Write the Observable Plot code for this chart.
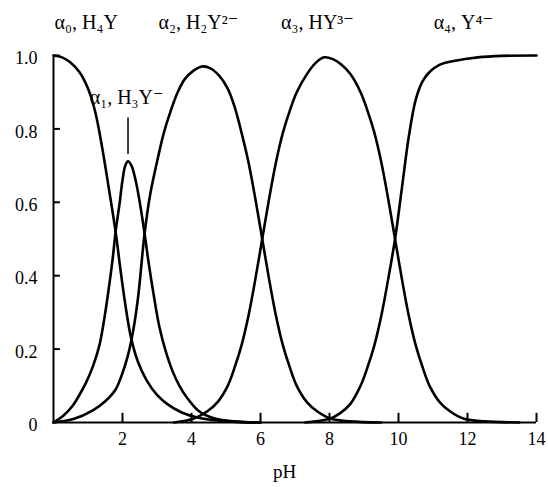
<!DOCTYPE html>
<html>
<head>
<meta charset="utf-8">
<script src="https://cdn.jsdelivr.net/npm/d3@7"></script>
<script src="https://cdn.jsdelivr.net/npm/@observablehq/plot@0.6"></script>
<style>
  html, body { margin: 0; padding: 0; background: #fff; }
  #chart { width: 548px; height: 487px; }
</style>
</head>
<body>
<div id="chart"></div>
<script>
// ---- data (pH, fraction alpha) ----
const pH0 = [0, 0.25, 0.5, 0.75, 1.0, 1.2, 1.4, 1.6, 1.8, 1.95, 2.1, 2.25, 2.45, 2.7, 3.0, 3.3, 3.7, 4.2, 4.8, 5.5, 6.0];
const a0  = [1.0, 0.995, 0.98, 0.955, 0.91, 0.85, 0.755, 0.64, 0.52, 0.41, 0.31, 0.23, 0.165, 0.115, 0.075, 0.05, 0.028, 0.013, 0.005, 0.001, 0];

const pH1 = [0, 0.3, 0.55, 0.75, 0.95, 1.15, 1.33, 1.45, 1.58, 1.72, 1.8, 1.92, 2.0, 2.08, 2.16, 2.26, 2.38, 2.5, 2.64, 2.75, 2.9, 3.07, 3.25, 3.45, 3.65, 3.85, 4.2, 4.6, 5.2, 6.0];
const a1  = [0, 0.02, 0.045, 0.075, 0.11, 0.155, 0.21, 0.27, 0.35, 0.45, 0.52, 0.60, 0.66, 0.70, 0.712, 0.70, 0.66, 0.60, 0.515, 0.44, 0.35, 0.26, 0.195, 0.14, 0.10, 0.07, 0.032, 0.013, 0.003, 0];

const pH2 = [0, 0.6, 1.14, 1.5, 1.8, 2.0, 2.15, 2.3, 2.45, 2.64, 2.8, 3.0, 3.2, 3.4, 3.6, 3.8, 4.05, 4.3, 4.55, 4.8, 5.05, 5.25, 5.45, 5.65, 5.85, 6.05, 6.25, 6.45, 6.65, 6.85, 7.05, 7.35, 7.65, 8.05, 8.6, 9.5];
const a2  = [0, 0.01, 0.033, 0.058, 0.09, 0.135, 0.18, 0.245, 0.34, 0.515, 0.62, 0.71, 0.79, 0.85, 0.90, 0.935, 0.958, 0.97, 0.965, 0.945, 0.91, 0.86, 0.79, 0.71, 0.61, 0.50, 0.39, 0.29, 0.21, 0.15, 0.10, 0.055, 0.03, 0.01, 0.003, 0];

const pH3 = [3.5, 4.05, 4.45, 4.75, 5.05, 5.25, 5.45, 5.65, 5.85, 6.05, 6.25, 6.45, 6.65, 6.85, 7.05, 7.35, 7.6, 7.85, 8.1, 8.35, 8.6, 8.9, 9.1, 9.3, 9.5, 9.7, 9.9, 10.1, 10.3, 10.5, 10.7, 10.9, 11.2, 11.5, 11.9, 12.5, 13.5];
const a3  = [0, 0.01, 0.03, 0.055, 0.10, 0.15, 0.21, 0.29, 0.39, 0.50, 0.61, 0.71, 0.79, 0.85, 0.90, 0.95, 0.98, 0.995, 0.99, 0.975, 0.95, 0.90, 0.85, 0.79, 0.71, 0.61, 0.50, 0.39, 0.29, 0.21, 0.15, 0.10, 0.055, 0.03, 0.01, 0.003, 0];

const pH4 = [7.3, 8.0, 8.3, 8.6, 8.9, 9.1, 9.3, 9.5, 9.7, 9.9, 10.1, 10.3, 10.5, 10.7, 10.9, 11.2, 11.6, 12.3, 13.0, 14.0];
const a4  = [0, 0.01, 0.025, 0.05, 0.10, 0.15, 0.21, 0.29, 0.39, 0.50, 0.64, 0.78, 0.88, 0.93, 0.955, 0.975, 0.985, 0.995, 0.999, 1.0];

const xTicks = [2, 4, 6, 8, 10, 12, 14];
const yTicks = [0, 0.2, 0.4, 0.6, 0.8, 1.0];
const speciesLabels = ["α₀, H₄Y", "α₁, H₃Y⁻", "α₂, H₂Y²⁻", "α₃, HY³⁻", "α₄, Y⁴⁻"];
const axisTitle = "pH";

// ---- build table ----
const series = [[pH0, a0], [pH1, a1], [pH2, a2], [pH3, a3], [pH4, a4]];
const rows = [];
series.forEach(([xs, ys], i) => xs.forEach((x, j) => rows.push({species: i, pH: x, alpha: ys[j]})));

const labelRows = [
  {text: speciesLabels[0], pH: 0.95, alpha: 1.09},
  {text: speciesLabels[1], pH: 2.12, alpha: 0.886},
  {text: speciesLabels[2], pH: 4.2,  alpha: 1.09},
  {text: speciesLabels[3], pH: 7.65, alpha: 1.09},
  {text: speciesLabels[4], pH: 11.88, alpha: 1.09}
];

const font = "'Liberation Serif', 'DejaVu Serif', serif";

const chart = Plot.plot({
  width: 548,
  height: 487,
  marginLeft: 53,
  marginRight: 12,
  marginTop: 55,
  marginBottom: 65,
  style: {fontFamily: font, fontSize: "18px", background: "#fff", color: "#000"},
  x: {domain: [0, 14], axis: null},
  y: {domain: [0, 1], axis: null},
  marks: [
    // axis lines
    Plot.ruleY([0], {x1: 0, x2: 14, stroke: "#000", strokeWidth: 2}),
    Plot.ruleX([0], {y1: 0, y2: 1, stroke: "#000", strokeWidth: 2}),
    // inward ticks
    Plot.ruleX(xTicks, {x: d => d, y1: 0, y2: 0.025, stroke: "#000", strokeWidth: 2}),
    Plot.ruleY(yTicks.filter(d => d > 0), {y: d => d, x1: 0, x2: 0.2, stroke: "#000", strokeWidth: 2}),
    // tick labels
    Plot.axisX({ticks: xTicks, tickSize: 0, tickPadding: 10, label: null, fontSize: 18, fontFamily: font}),
    Plot.axisY({ticks: yTicks, tickSize: 0, tickPadding: 16, dy: 3, label: null, fontSize: 18, fontFamily: font,
                tickFormat: d => d === 0 ? "0" : d.toFixed(1)}),
    // curves
    Plot.line(rows, {x: "pH", y: "alpha", z: "species", stroke: "#000", strokeWidth: 2.6, curve: "catmull-rom"}),
    // leader line for alpha1
    Plot.ruleX([2.16], {x: d => d, y1: 0.73, y2: 0.83, stroke: "#000", strokeWidth: 1.5}),
    // species labels
    Plot.text(labelRows, {x: "pH", y: "alpha", text: "text", fontSize: 20, fontFamily: font, fill: "#000"}),
    // axis title
    Plot.text([axisTitle], {x: 6.7, y: -0.135, text: d => d, fontSize: 19, fontFamily: font, fill: "#000"})
  ]
});
document.getElementById("chart").appendChild(chart);
</script>
</body>
</html>
